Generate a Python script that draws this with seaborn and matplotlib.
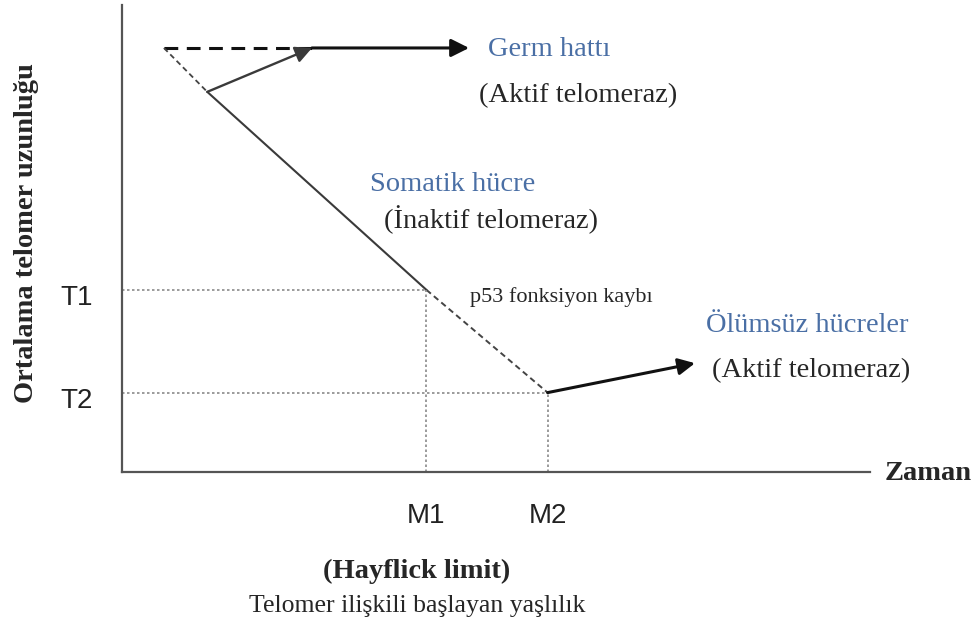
import matplotlib
matplotlib.use("Agg")
import matplotlib.pyplot as plt
import matplotlib.transforms as mtransforms
import seaborn as sns
import pandas as pd

# Diyagram verileri (keyfi birimler: zaman 0-100, telomer uzunlugu 0-100)
germ_dash_x = [5.6, 25.4]
germ_dash_y = [90.8, 90.8]
germ_arrow_x = [25.4, 46.4]
germ_arrow_y = [90.8, 90.8]
early_dash_x = [5.6, 11.4]
early_dash_y = [90.8, 81.4]
rescue_x = [11.4, 25.4]
rescue_y = [81.4, 90.8]
somatic_x = [11.4, 40.7]
somatic_y = [81.4, 39.0]
p53_x = [40.7, 56.9]
p53_y = [39.0, 17.0]
immortal_x = [56.9, 76.6]
immortal_y = [17.0, 23.3]

t_levels = [39.0, 17.0]
t_labels = ["T1", "T2"]
m_levels = [40.7, 56.9]
m_labels = ["M1", "M2"]

sns.set_theme(style="white")
plt.rcParams["font.family"] = ["Liberation Serif", "DejaVu Serif"]

W, H = 979, 627
fig = plt.figure(figsize=(W / 100, H / 100), dpi=100)
ax = fig.add_axes([122 / W, (H - 472) / H, 748 / W, 467 / H])
ax.set_xlim(0, 100)
ax.set_ylim(0, 100)

def px(x, y):
    return x / W, 1 - y / H

dark = "#3a3a3a"
dotc = "#8a8a8a"
blue = "#4a6fa5"

# kesikli ve duz cizgiler
seg = pd.DataFrame({"x": germ_dash_x, "y": germ_dash_y})
sns.lineplot(data=seg, x="x", y="y", ax=ax, color="#111111", lw=2.2,
             linestyle=(0, (4.5, 2.8)))
seg = pd.DataFrame({"x": early_dash_x, "y": early_dash_y})
sns.lineplot(data=seg, x="x", y="y", ax=ax, color="#444444", lw=1.3,
             linestyle=(0, (3, 2)), sort=False)
seg = pd.DataFrame({"x": somatic_x, "y": somatic_y})
sns.lineplot(data=seg, x="x", y="y", ax=ax, color=dark, lw=1.5, sort=False)
seg = pd.DataFrame({"x": p53_x, "y": p53_y})
sns.lineplot(data=seg, x="x", y="y", ax=ax, color="#444444", lw=1.4,
             linestyle=(0, (3, 2)), sort=False)

# T ve M referans cizgileri
for t, m in zip(t_levels, m_levels):
    ax.plot([0, m], [t, t], color=dotc, lw=1.2, linestyle=(0, (1.5, 1.5)))
    ax.plot([m, m], [0, t], color=dotc, lw=1.2, linestyle=(0, (1.5, 1.5)))

# oklar
ax.annotate("", xy=(germ_arrow_x[1], germ_arrow_y[1]),
            xytext=(germ_arrow_x[0], germ_arrow_y[0]),
            arrowprops=dict(arrowstyle="-|>", color="#111111", lw=2.2,
                            mutation_scale=27, shrinkA=0, shrinkB=0))
ax.annotate("", xy=(rescue_x[1], rescue_y[1]), xytext=(rescue_x[0], rescue_y[0]),
            arrowprops=dict(arrowstyle="-|>", color=dark, lw=1.7,
                            mutation_scale=25, shrinkA=0, shrinkB=0))
ax.annotate("", xy=(immortal_x[1], immortal_y[1]),
            xytext=(immortal_x[0], immortal_y[0]),
            arrowprops=dict(arrowstyle="-|>", color="#111111", lw=2.2,
                            mutation_scale=25, shrinkA=0, shrinkB=0))

# eksenler
for s in ["top", "right"]:
    ax.spines[s].set_visible(False)
for s in ["left", "bottom"]:
    ax.spines[s].set_color("#555555")
    ax.spines[s].set_linewidth(1.6)
ax.set_yticks(t_levels)
ax.set_yticklabels(t_labels, family="Liberation Sans", fontsize=20, color="#222222")
ax.set_xticks(m_levels)
ax.set_xticklabels(m_labels, family="Liberation Sans", fontsize=20, color="#222222")
ax.tick_params(axis="y", length=0, pad=21)
ax.tick_params(axis="x", length=0, pad=22)
shift = mtransforms.ScaledTranslation(0, -5 / 100, fig.dpi_scale_trans)
for lab in ax.get_yticklabels():
    lab.set_transform(lab.get_transform() + shift)
ax.set_xlabel("")
ax.set_ylabel("")

# metinler
fig.text(*px(27, 233), "Ortalama telomer uzunluğu", rotation=90, fontsize=20.5,
         fontweight="bold", ha="center", va="center")
fig.text(*px(885, 474), "Zaman", fontsize=20.5, fontweight="bold", ha="left", va="center")
fig.text(*px(417, 571), "(Hayflick limit)", fontsize=20.5, fontweight="bold",
         ha="center", va="center")
fig.text(*px(417, 606), "Telomer ilişkili başlayan yaşlılık", fontsize=18.5,
         ha="center", va="center")

fig.text(*px(488, 50), "Germ hattı", fontsize=20.5, color=blue, ha="left", va="center")
fig.text(*px(479, 96), "(Aktif telomeraz)", fontsize=20.5, ha="left", va="center")
fig.text(*px(370, 185), "Somatik hücre", fontsize=20.5, color=blue, ha="left", va="center")
fig.text(*px(384, 220), "(İnaktif telomeraz)", fontsize=20.5, ha="left", va="center")
fig.text(*px(470, 297), "p53 fonksiyon kaybı", fontsize=16, ha="left", va="center")
fig.text(*px(706, 326), "Ölümsüz hücreler", fontsize=20.5, color=blue, ha="left", va="center")
fig.text(*px(712, 371), "(Aktif telomeraz)", fontsize=20.5, ha="left", va="center")

fig.savefig("out.png", dpi=100)
